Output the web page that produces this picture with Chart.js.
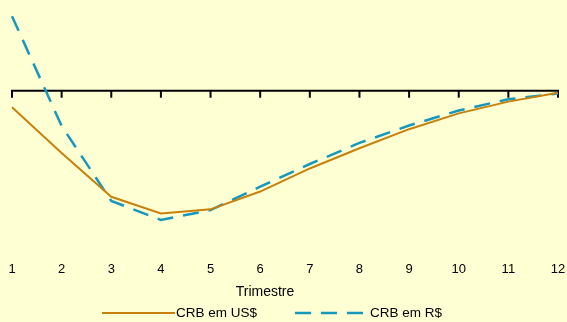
<!DOCTYPE html>
<html>
<head>
<meta charset="utf-8">
<script src="https://cdn.jsdelivr.net/npm/chart.js@4/dist/chart.umd.min.js"></script>
<style>
  html, body { margin: 0; padding: 0; background: #FFFFD4; }
  #wrap { width: 567px; height: 322px; position: relative; }
</style>
</head>
<body>
<div id="wrap"><canvas id="c" width="567" height="322"></canvas></div>
<script>
// Quarterly change of the CRB index (%), in dollars and in reais
const trimestres = ['1', '2', '3', '4', '5', '6', '7', '8', '9', '10', '11', '12'];
const crbUSD = [-4.1, -15.4, -26.2, -30.3, -29.3, -24.9, -19.2, -14.2, -9.5, -5.6, -2.7, -0.5];
const crbBRL = [18.4, -8.7, -27.2, -31.9, -29.5, -23.7, -18.1, -12.9, -8.6, -4.9, -2.1, -0.7];
const serieNomes = ['CRB em US$', 'CRB em R$'];
const tituloEixo = 'Trimestre';

const FONT = '"Liberation Sans", Arial, sans-serif';

// Background, zero axis with tick marks, axis caption and legend
const decor = {
  id: 'decor',
  beforeDraw(chart) {
    const ctx = chart.ctx;
    ctx.save();
    ctx.fillStyle = '#FFFFD4';
    ctx.fillRect(0, 0, chart.width, chart.height);
    ctx.restore();
  },
  beforeDatasetsDraw(chart) {
    const ctx = chart.ctx;
    const xs = chart.scales.x, ys = chart.scales.y;
    const y0 = ys.getPixelForValue(0);
    ctx.save();
    ctx.strokeStyle = '#000';
    ctx.lineWidth = 2;
    ctx.beginPath();
    ctx.moveTo(chart.chartArea.left - 1, y0);
    ctx.lineTo(chart.chartArea.right + 1, y0);
    ctx.stroke();
    for (let i = 0; i < trimestres.length; i++) {
      const x = xs.getPixelForTick(i);
      ctx.beginPath();
      ctx.moveTo(x, y0);
      ctx.lineTo(x, y0 + 7);
      ctx.stroke();
    }
    ctx.restore();
  },
  afterDraw(chart) {
    const ctx = chart.ctx;
    ctx.save();
    ctx.fillStyle = '#000';
    ctx.textBaseline = 'middle';
    ctx.textAlign = 'center';
    ctx.font = '14px ' + FONT;
    ctx.fillText(tituloEixo, 265, 292);

    // legend entries: line sample followed by the series name
    const items = [{ x: 102, w: 73 }, { x: 295, w: 70 }];
    ctx.font = '13.5px ' + FONT;
    ctx.textAlign = 'left';
    chart.data.datasets.forEach((ds, i) => {
      const it = items[i];
      const y = 313;
      ctx.save();
      ctx.strokeStyle = ds.borderColor;
      ctx.lineWidth = ds.borderWidth;
      ctx.setLineDash(ds.borderDash || []);
      ctx.beginPath();
      ctx.moveTo(it.x, y);
      ctx.lineTo(it.x + it.w, y);
      ctx.stroke();
      ctx.restore();
      ctx.fillText(ds.label, it.x + it.w + (i === 0 ? 1 : 5), y + 0.5);
    });
    ctx.restore();
  }
};

new Chart(document.getElementById('c'), {
  type: 'line',
  data: {
    labels: trimestres,
    datasets: [
      {
        label: serieNomes[0],
        data: crbUSD,
        borderColor: '#C8800C',
        borderWidth: 2,
        pointRadius: 0,
        tension: 0,
        fill: false
      },
      {
        label: serieNomes[1],
        data: crbBRL,
        borderColor: '#1598BC',
        borderWidth: 2.5,
        borderDash: [16, 10],
        pointRadius: 0,
        tension: 0,
        fill: false
      }
    ]
  },
  options: {
    responsive: false,
    animation: false,
    devicePixelRatio: 1,
    layout: { padding: { left: 12, right: 9, top: 9.7, bottom: 36.7 } },
    plugins: {
      legend: { display: false },
      tooltip: { enabled: false }
    },
    scales: {
      x: {
        offset: false,
        grid: { display: false, drawTicks: false },
        border: { display: false },
        // keep the plot flush with the padding; end labels may overhang
        afterFit(s) { s.paddingLeft = 0; s.paddingRight = 0; },
        ticks: {
          color: '#000',
          padding: 8.5,
          maxRotation: 0,
          autoSkip: false,
          font: { family: FONT, size: 13 }
        }
      },
      y: {
        display: false,
        min: -40,
        max: 20
      }
    }
  },
  plugins: [decor]
});
</script>
</body>
</html>
